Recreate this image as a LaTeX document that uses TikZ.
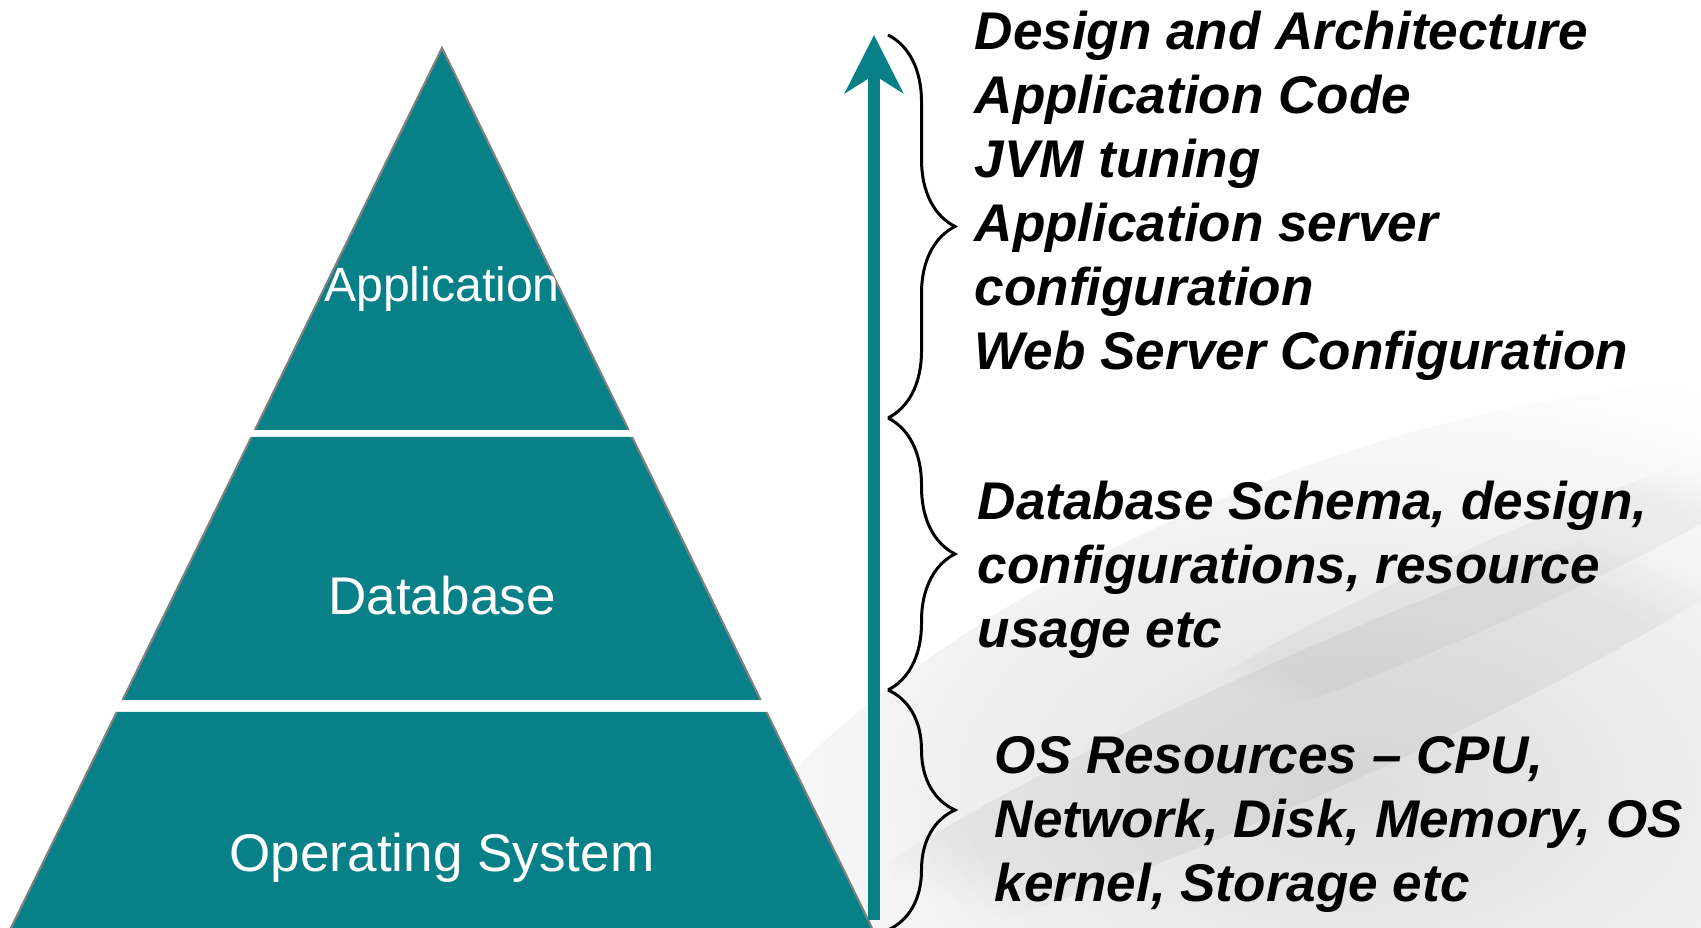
\documentclass[tikz,border=0pt]{standalone}
\usepackage{fontspec}
\setmainfont{Liberation Sans}
\usepackage{tikz}
\usetikzlibrary{arrows.meta,decorations.pathreplacing,calc,fadings}
\definecolor{pyrteal}{RGB}{7,128,135}
\definecolor{edgegray}{RGB}{128,128,128}

\begin{document}
\begin{tikzpicture}[x=1cm,y=1cm,
    layer/.style={fill=pyrteal},
    layeredge/.style={draw=edgegray,line width=0.6pt},
    layerlabel/.style={text=white,font=\fontsize{15.1}{18.2}\selectfont,inner sep=0pt,anchor=base},
    desc/.style={font=\fontsize{15.1}{18.2}\selectfont\bfseries\itshape,align=left,anchor=north west,inner sep=0pt},
    tierbrace/.style={decorate,decoration={brace,amplitude=0.67cm},line width=0.85pt}]
  \useasboundingbox (0,0) rectangle (17.01,9.28);
  % ---- faded photo behind the text ----
  \shade[inner color=gray!26,outer color=white,rotate around={22:(13.6,1.4)}]
      (13.6,1.4) ellipse (7.4 and 3.2);
  \fill[gray,opacity=0.10,path fading=circle with fuzzy edge 20 percent,rotate around={24:(13.0,2.0)}]
      (13.0,2.0) ellipse (5.6 and 0.7);
  \fill[gray,opacity=0.08,path fading=circle with fuzzy edge 20 percent,rotate around={24:(14.8,3.4)}]
      (14.8,3.4) ellipse (3.6 and 0.4);
  % ---- pyramid tiers ----
  \fill[layer] (4.42,8.80) -- (6.286,4.98) -- (2.549,4.98) -- cycle;
  \draw[layeredge] (2.549,4.98) -- (4.42,8.80) -- (6.286,4.98);
  \fill[layer] (2.515,4.91) -- (6.32,4.91) -- (7.606,2.28) -- (1.226,2.28) -- cycle;
  \draw[layeredge] (2.515,4.91) -- (1.226,2.28) (6.32,4.91) -- (7.606,2.28);
  \fill[layer] (1.168,2.16) -- (7.664,2.16) -- (8.72,0) -- (0.11,0) -- cycle;
  \draw[layeredge] (1.168,2.16) -- (0.11,0) (7.664,2.16) -- (8.72,0);
  \node[layerlabel,font=\fontsize{13.7}{16.5}\selectfont] (apptier) at (4.42,6.26) {Application};
  \node[layerlabel] (dbtier) at (4.42,3.13) {Database};
  \node[layerlabel] (ostier) at (4.42,0.56) {Operating System};
  % ---- rising arrow ----
  \coordinate (risefoot) at (8.74,0.08);
  \coordinate (risetip) at (8.74,8.93);
  \draw[pyrteal,line width=0.12cm,-{Stealth[length=0.58cm,width=0.58cm,inset=0.18cm]}]
      (risefoot) -- (risetip);
  % ---- braces ----
  \coordinate (brtop) at (8.88,8.93);
  \coordinate (brapp) at (8.88,5.10);
  \coordinate (brdb) at (8.88,2.38);
  \coordinate (brbot) at (8.88,-0.02);
  \draw[tierbrace] (brtop) -- (brapp);
  \draw[tierbrace] (brapp) -- (brdb);
  \draw[tierbrace] (brdb) -- (brbot);
  % ---- tuning areas ----
  \node[desc] (appnotes) at (9.74,9.172)
      {Design and Architecture\\Application Code\\JVM tuning\\Application server\\configuration\\Web Server Configuration};
  \node[desc] (dbnotes) at (9.77,4.474)
      {Database Schema, design,\\configurations, resource\\usage etc};
  \node[desc] (osnotes) at (9.94,1.925)
      {OS Resources -- CPU,\\Network, Disk, Memory, OS\\kernel, Storage etc};
\end{tikzpicture}
\end{document}
